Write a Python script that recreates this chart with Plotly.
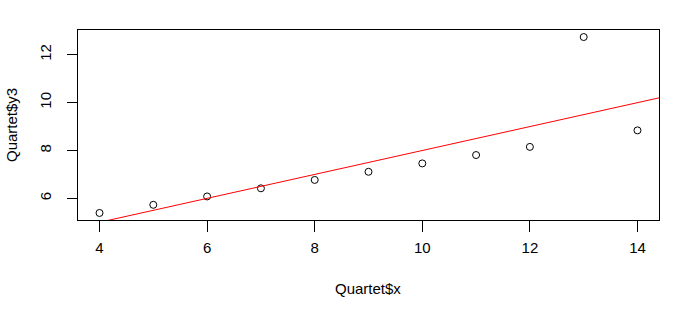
import numpy as np
import plotly.graph_objects as go

quartet_x = [10, 8, 13, 9, 11, 14, 6, 4, 12, 7, 5]
quartet_y3 = [7.46, 6.77, 12.74, 7.11, 7.81, 8.84, 6.08, 5.39, 8.15, 6.42, 5.73]
x_ticks = [4, 6, 8, 10, 12, 14]
y_ticks = [6, 8, 10, 12]

xa = np.array(quartet_x, dtype=float)
ya = np.array(quartet_y3, dtype=float)
slope, intercept = np.polyfit(xa, ya, 1)

# R-style 4% axis extension
xr = [xa.min() - 0.04 * (xa.max() - xa.min()), xa.max() + 0.04 * (xa.max() - xa.min())]
yr = [ya.min() - 0.04 * (ya.max() - ya.min()), ya.max() + 0.04 * (ya.max() - ya.min())]

line_x = np.array([xr[0] - 1, xr[1] + 1])
line_y = intercept + slope * line_x

fig = go.Figure()
fig.add_trace(go.Scatter(x=quartet_x, y=quartet_y3, mode="markers",
                         marker=dict(symbol="circle-open", size=7, color="black",
                                     line=dict(width=1, color="black")),
                         showlegend=False, cliponaxis=False))
fig.add_trace(go.Scatter(x=line_x, y=line_y, mode="lines",
                         line=dict(color="red", width=1), showlegend=False))
# invisible trace on overlay axes that draw visible ticks
fig.add_trace(go.Scatter(x=[], y=[], xaxis="x2", yaxis="y2", showlegend=False))

font = dict(family="Arial, Liberation Sans, sans-serif", size=15, color="black")
tfont = dict(family="Arial, Liberation Sans, sans-serif", size=15, color="black")
clear = "rgba(0,0,0,0)"
fig.update_layout(
    width=700, height=318,
    margin=dict(l=78, r=41, t=30, b=98),
    paper_bgcolor="white", plot_bgcolor="white",
    font=font,
    xaxis=dict(range=xr, tickmode="array", tickvals=x_ticks, ticks="outside", ticklen=14,
               tickwidth=1, tickcolor=clear,
               showline=True, mirror=True, linecolor="black", linewidth=1,
               showgrid=False, zeroline=False, tickfont=font),
    yaxis=dict(range=yr, tickmode="array", tickvals=y_ticks, ticks="outside", ticklen=20,
               tickwidth=1, tickcolor=clear,
               showline=True, mirror=True, linecolor="black", linewidth=1,
               showgrid=False, zeroline=False, tickangle=-90, tickfont=font),
    xaxis2=dict(range=xr, overlaying="x", side="bottom", tickmode="array", tickvals=x_ticks,
                ticks="outside", ticklen=11, tickwidth=1, tickcolor="black",
                showticklabels=False, showline=False, showgrid=False, zeroline=False),
    yaxis2=dict(range=yr, overlaying="y", side="left", tickmode="array", tickvals=y_ticks,
                ticks="outside", ticklen=10, tickwidth=1, tickcolor="black",
                showticklabels=False, showline=False, showgrid=False, zeroline=False),
    annotations=[
        dict(text="Quartet$x", xref="paper", yref="paper", x=(368 - 78) / 581, y=-(288 - 220) / 190,
             xanchor="center", yanchor="middle", showarrow=False, font=tfont),
        dict(text="Quartet$y3", xref="paper", yref="paper", x=-(78 - 11) / 581, y=0.5,
             xanchor="center", yanchor="middle", showarrow=False, font=tfont, textangle=-90),
    ],
)
fig.write_html("out.html")
